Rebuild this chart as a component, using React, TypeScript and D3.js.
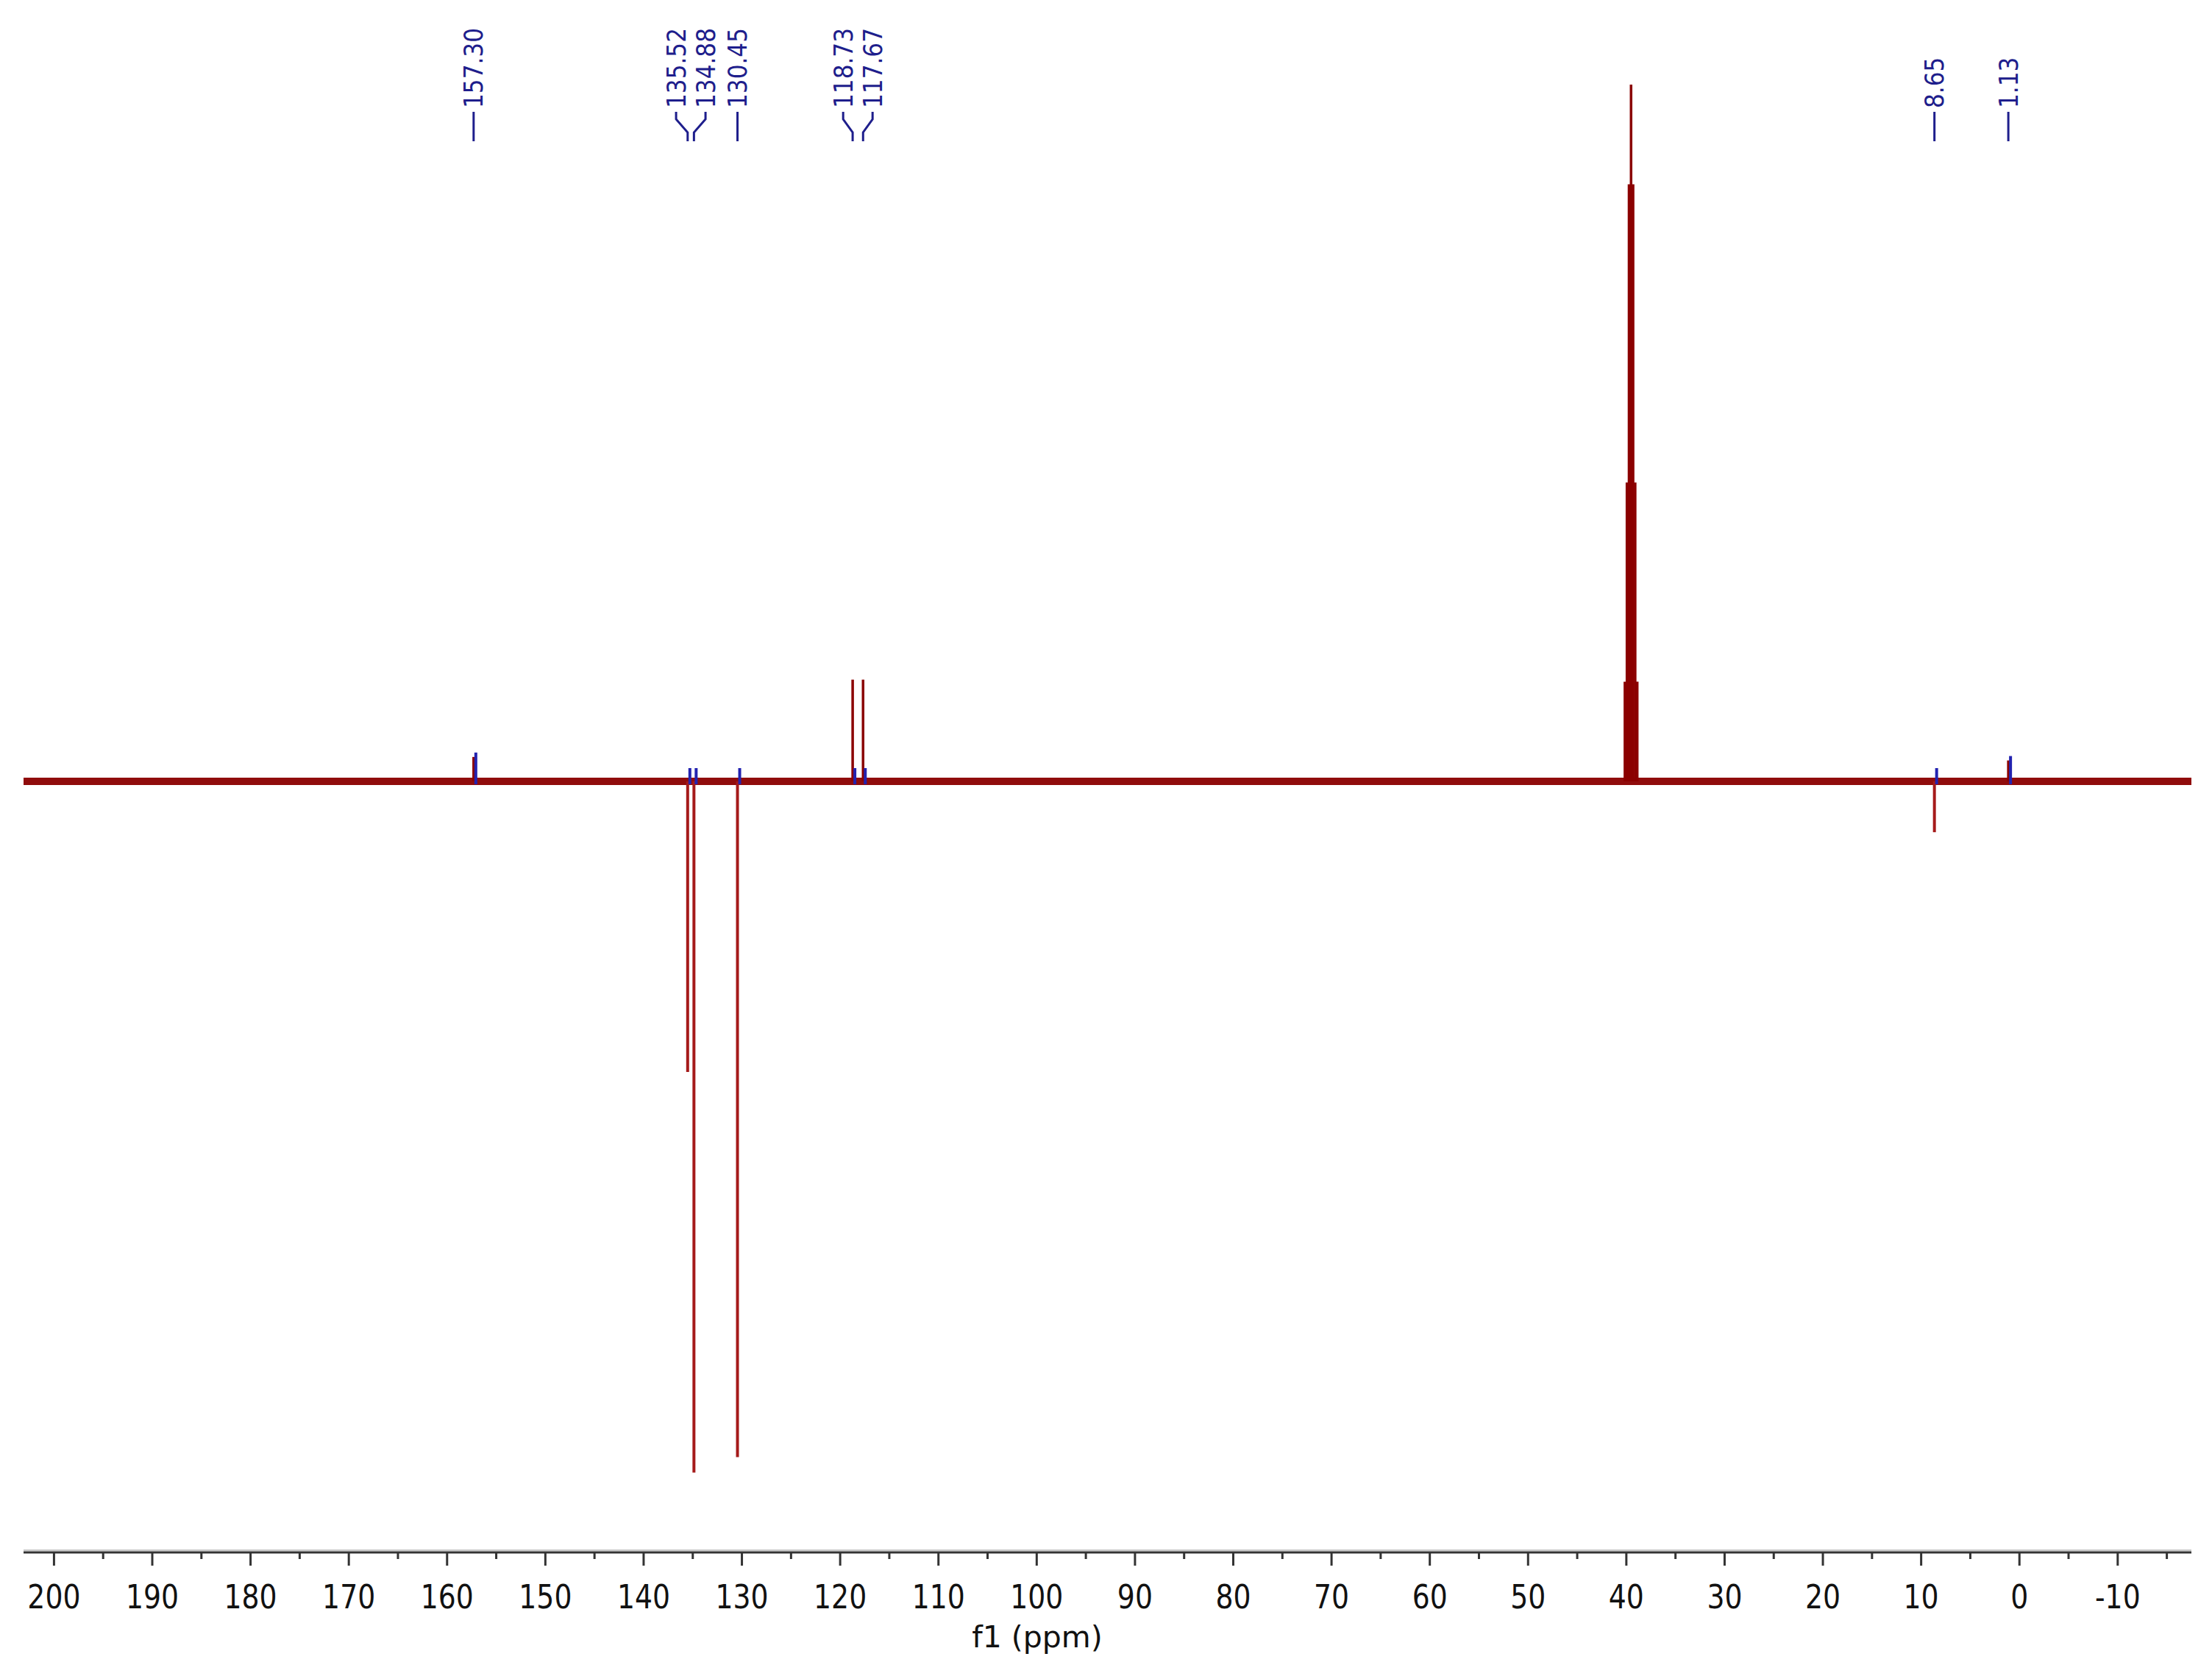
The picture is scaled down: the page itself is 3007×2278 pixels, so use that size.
import React from "react";
import * as d3 from "d3";

// ---- data ----
const peakPpm = [157.3, 135.52, 134.88, 130.45, 118.73, 117.67, 40.15, 39.94, 39.73, 39.52, 39.31, 39.1, 38.89, 8.65, 1.13];
const peakHeight = [3.5, -41.7, -99.2, -97.0, 14.6, 14.6, 14.3, 42.9, 85.7, 100, 85.7, 42.9, 14.3, -7.3, 3.0];
const labelPpm = [157.3, 135.52, 134.88, 130.45, 118.73, 117.67, 8.65, 1.13];
const labelText = ["157.30", "135.52", "134.88", "130.45", "118.73", "117.67", "8.65", "1.13"];
const majorTicks = [200, 190, 180, 170, 160, 150, 140, 130, 120, 110, 100, 90, 80, 70, 60, 50, 40, 30, 20, 10, 0, -10];
const minorTicks = [195, 185, 175, 165, 155, 145, 135, 125, 115, 105, 95, 85, 75, 65, 55, 45, 35, 25, 15, 5, -5, -15];
const xDomain = [203.1, -17.5];
const axisTitle = "f1 (ppm)";

const W = 3007;
const H = 2278;
const RED = "#8b0000";
const NAVY = "#1e1e8c";

function spreadLabels(xs: number[], gap: number): number[] {
  let clusters = xs.map((x) => ({ sum: x, n: 1, start: x }));
  let changed = true;
  while (changed) {
    changed = false;
    for (let i = 0; i < clusters.length - 1; i++) {
      const a = clusters[i];
      const b = clusters[i + 1];
      if (a.start + (a.n - 1) * gap + gap > b.start) {
        const sum = a.sum + b.sum;
        const n = a.n + b.n;
        const start = sum / n - ((n - 1) / 2) * gap;
        clusters.splice(i, 2, { sum, n, start });
        changed = true;
        break;
      }
    }
  }
  const out: number[] = [];
  clusters.forEach((c) => {
    for (let k = 0; k < c.n; k++) out.push(c.start + k * gap);
  });
  return out;
}

export default function App() {
  const x = d3.scaleLinear().domain(xDomain).range([32, 2979]);
  const y = d3.scaleLinear().domain([0, 100]).range([1062, 115]);
  const y0 = y(0);
  const axisY = 2110;

  const peakXs = labelPpm.map((p) => x(p));
  const labelXs = spreadLabels(peakXs, 40);

  return (
    <svg width={W} height={H} style={{ position: "absolute", left: 0, top: 0, background: "#fff" }}>
      <rect width={W} height={H} fill="#fff" />
      {/* baseline band */}
      <line x1={x(xDomain[0])} x2={x(xDomain[1])} y1={y0} y2={y0} stroke={RED} strokeWidth={10} opacity={0.95} />
      {/* peaks */}
      {peakPpm.map((p, i) => {
        const h = peakHeight[i];
        const neg = h < 0;
        return (
          <line
            key={"pk" + i}
            x1={x(p)}
            x2={x(p)}
            y1={y0}
            y2={y(h)}
            stroke={neg ? "#a51a1a" : RED}
            strokeWidth={neg ? 4 : 3.5}
          />
        );
      })}
      {/* peak pick markers */}
      {labelPpm.map((p, i) => {
        const idx = peakPpm.indexOf(p);
        const h = idx >= 0 ? peakHeight[idx] : 0;
        const top = h > 0 && h < 5 ? y(h) - 6 : y0 - 18;
        return (
          <line key={"mk" + i} x1={x(p) + 3} x2={x(p) + 3} y1={y0 + 4} y2={top} stroke="#2323b0" strokeWidth={4} />
        );
      })}
      {/* peak labels */}
      {labelText.map((t, i) => {
        const lx = labelXs[i];
        const px = peakXs[i];
        const d = Math.abs(lx - px) < 1 ? `M${px},152V192` : `M${lx},152V162L${px},180V192`;
        return (
          <g key={"lb" + i}>
            <text
              transform={`translate(${lx},147) rotate(-90) scale(0.89,1)`}
              dy="0.36em"
              fontFamily="DejaVu Sans, Verdana, sans-serif"
              fontSize={35}
              fill={NAVY}
            >
              {t}
            </text>
            <path d={d} fill="none" stroke={NAVY} strokeWidth={3} />
          </g>
        );
      })}
      {/* x axis */}
      <line x1={32} x2={2979} y1={axisY - 3} y2={axisY - 3} stroke="#c8c8c8" strokeWidth={2} />
      <line x1={32} x2={2979} y1={axisY} y2={axisY} stroke="#333" strokeWidth={3} />
      {majorTicks.map((t) => (
        <g key={"mt" + t}>
          <line x1={x(t)} x2={x(t)} y1={axisY} y2={axisY + 18} stroke="#333" strokeWidth={3} />
          <text
            transform={`translate(${x(t)},2186) scale(0.84,1)`}
            textAnchor="middle"
            fontFamily="DejaVu Sans, Verdana, sans-serif"
            fontSize={45}
            fill="#111"
          >
            {t}
          </text>
        </g>
      ))}
      {minorTicks
        .filter((t) => x(t) >= 32 && x(t) <= 2979)
        .map((t) => (
          <line key={"mn" + t} x1={x(t)} x2={x(t)} y1={axisY} y2={axisY + 9} stroke="#333" strokeWidth={3} />
        ))}
      <text
        transform={`translate(1410,2239)`}
        textAnchor="middle"
        fontFamily="DejaVu Sans, Verdana, sans-serif"
        fontSize={41}
        fill="#111"
      >
        {axisTitle}
      </text>
    </svg>
  );
}
